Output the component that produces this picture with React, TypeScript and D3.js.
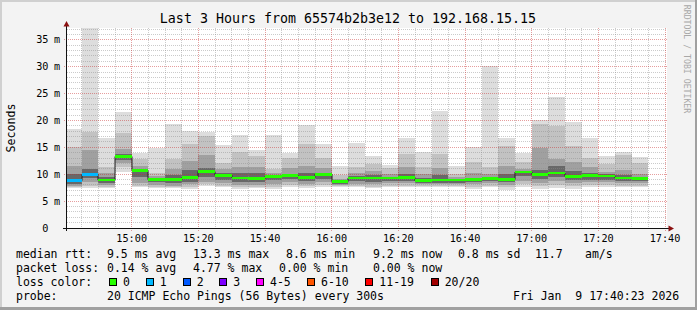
import React from 'react';
import * as d3 from 'd3';

// ---------- data ----------
const barTimes = [
  '14:40', '14:45', '14:50', '14:55', '15:00', '15:05', '15:10', '15:15', '15:20', '15:25',
  '15:30', '15:35', '15:40', '15:45', '15:50', '15:55', '16:00', '16:05', '16:10', '16:15',
  '16:20', '16:25', '16:30', '16:35', '16:40', '16:45', '16:50', '16:55', '17:00', '17:05',
  '17:10', '17:15', '17:20', '17:25', '17:30',
];
// smoke envelope (ms), outermost to innermost
const maxRtt = [18.5, 38.0, 16.7, 21.5, 14.0, 14.9, 19.4, 18.1, 17.9, 15.5, 17.3, 14.6, 17.3, 14.0, 19.2, 15.6, 11.5, 15.9, 13.3, 11.8, 16.7, 14.2, 21.7, 11.5, 15.1, 30.2, 16.7, 14.0, 20.0, 24.3, 19.7, 16.7, 13.3, 14.2, 13.2];
const hi2 = [15.0, 17.8, 11.3, 17.6, 12.8, 10.2, 12.8, 15.6, 17.2, 12.1, 14.1, 13.3, 10.9, 13.0, 15.6, 13.0, 9.8, 11.3, 11.9, 11.2, 13.8, 11.3, 13.8, 10.0, 12.2, 11.3, 15.3, 12.2, 19.4, 19.0, 15.3, 13.0, 11.9, 13.5, 12.0];
const hi3 = [11.6, 14.5, 10.3, 14.7, 11.5, 9.6, 11.0, 12.5, 13.5, 11.0, 11.4, 11.4, 10.2, 11.2, 11.5, 11.2, 9.1, 10.3, 10.6, 10.0, 11.3, 10.0, 11.1, 9.4, 10.2, 10.1, 11.6, 11.0, 14.9, 12.9, 12.2, 11.4, 10.5, 10.7, 10.1];
const hi4 = [10.0, 11.0, 9.5, 13.8, 11.0, 9.3, 9.8, 10.7, 11.2, 10.2, 10.2, 10.2, 9.9, 10.1, 10.2, 10.2, 8.9, 9.7, 9.8, 9.5, 10.0, 9.3, 9.8, 9.1, 9.3, 9.5, 10.0, 10.6, 10.8, 11.5, 10.6, 10.3, 10.0, 9.8, 9.4];
const medianRtt = [8.8, 10.0, 8.9, 13.3, 10.7, 9.0, 9.0, 9.4, 10.5, 9.8, 9.3, 9.2, 9.6, 9.8, 9.4, 10.0, 8.6, 9.3, 9.3, 9.3, 9.4, 8.8, 8.9, 8.9, 9.0, 9.2, 9.0, 10.4, 9.9, 10.2, 9.6, 9.8, 9.7, 9.3, 9.2];
const lo4 = [8.2, 9.3, 8.4, 12.6, 9.5, 8.5, 8.4, 8.6, 9.4, 9.0, 8.5, 8.6, 8.9, 9.1, 8.7, 9.2, 8.2, 8.7, 8.6, 8.8, 8.8, 8.4, 8.4, 8.4, 8.5, 8.7, 8.5, 9.6, 9.1, 9.4, 8.9, 9.0, 9.0, 8.7, 8.7];
const lo3 = [7.9, 8.6, 8.0, 12.0, 8.3, 8.0, 7.9, 8.2, 8.6, 8.4, 8.0, 8.0, 8.2, 8.5, 8.2, 8.6, 8.0, 8.2, 8.1, 8.3, 8.3, 8.1, 8.1, 8.1, 8.1, 8.3, 8.0, 8.8, 8.4, 8.8, 8.4, 8.6, 8.5, 8.3, 8.4];
const lo2 = [7.6, 7.9, 7.7, 11.3, 7.9, 7.7, 7.6, 7.6, 8.1, 7.9, 7.6, 7.6, 7.6, 8.0, 7.8, 8.0, 7.8, 7.8, 7.7, 7.9, 7.9, 7.9, 7.8, 7.9, 7.7, 7.9, 7.6, 8.1, 7.8, 8.0, 7.8, 8.0, 8.0, 7.9, 7.9];
const minRtt = [7.4, 7.5, 7.5, 10.5, 7.7, 7.4, 7.35, 7.2, 7.8, 7.6, 7.3, 7.4, 7.3, 7.7, 7.5, 7.7, 7.6, 7.6, 7.5, 7.7, 7.6, 7.7, 7.6, 7.7, 7.3, 7.6, 7.0, 7.6, 7.2, 7.5, 7.3, 7.7, 7.7, 7.6, 7.6];
// lost pings per bar (index into lossColors)
const lossIdx = [1, 1, 0, 0, 0, 0, 0, 0, 0, 0, 0, 0, 0, 0, 0, 0, 0, 0, 0, 0, 0, 0, 0, 0, 0, 0, 0, 0, 0, 0, 0, 0, 0, 0, 0];

const lossLabels = ['0', '1', '2', '3', '4-5', '6-10', '11-19', '20/20'];
const lossColors = ['#26ff00', '#00b8ff', '#0059ff', '#7e00ff', '#ff00ff', '#ff5500', '#ff0000', '#a10000'];

const yTicks = [0, 5, 10, 15, 20, 25, 30, 35];
const xTickLabels = ['15:00', '15:20', '15:40', '16:00', '16:20', '16:40', '17:00', '17:20', '17:40'];

const titleText = 'Last 3 Hours from 65574b2b3e12 to 192.168.15.15';
const statsRtt = ['9.5 ms avg', '13.3 ms max', '8.6 ms min', '9.2 ms now', '0.8 ms sd', '11.7', 'am/s'];
const statsLoss = ['0.14 % avg', '4.77 % max', '0.00 % min', '0.00 % now'];
const probeText = '20 ICMP Echo Pings (56 Bytes) every 300s';
const dateText = 'Fri Jan\u00a0\u00a09 17:40:23 2026';

// ---------- layout ----------
const W = 697;
const H = 310;
const PL = 67, PR = 667, PT = 28, PB = 228;
const FONT = "'DejaVu Sans Mono', monospace";
const smokeColors = ['#dddddd', '#c2c2c2', '#a0a0a0', '#686868'];

const toMin = (s: string) => {
  const [h, m] = s.split(':').map(Number);
  return h * 60 + m;
};
const startMin = 14 * 60 + 40 + 23 / 60;
const endMin = startMin + 180;

export default function App() {
  const x = d3.scaleLinear().domain([startMin, endMin]).range([66.3, 666.3]);
  const y = d3.scaleLinear().domain([0, 37.2]).range([PB, PT]);

  const bars = barTimes.map((t, i) => {
    const t0 = toMin(t);
    const x0 = Math.max(PL, Math.round(x(t0)));
    const x1 = Math.round(x(t0 + 5));
    const layers = [
      [minRtt[i], maxRtt[i]],
      [lo2[i], hi2[i]],
      [lo3[i], hi3[i]],
      [lo4[i], hi4[i]],
    ];
    return { x0, x1, layers, med: medianRtt[i], loss: lossIdx[i] };
  });

  const stepPts: [number, number][] = bars.map((b) => [b.x0, y(b.med)]);
  stepPts.push([bars[bars.length - 1].x1, y(bars[bars.length - 1].med)]);
  const stepPath = d3.line().curve(d3.curveStepAfter)(stepPts) || '';

  const minorH: number[] = [];
  for (let v = 1; v <= 37; v++) if (v % 5 !== 0) minorH.push(v);
  const majorH = yTicks.filter((v) => v > 0);
  const minorV: number[] = [];
  const majorV = xTickLabels.map(toMin);
  for (let t = 885; t <= 1060; t += 5) if (t % 20 !== 0) minorV.push(t);

  const cy = (v: number) => Math.floor(y(v)) + 0.5;
  const cx = (t: number) => Math.floor(x(t)) + 0.5;

  const legendBoxX = [109, 145.7, 182.7, 219.3, 256, 307, 365.3, 430.7];
  const rttX = [107, 193, 286, 373, 458, 535, 585];
  const lossX = [107, 193, 279, 373];

  return (
    <svg
      width={W}
      height={H}
      viewBox={`0 0 ${W} ${H}`}
      style={{ position: 'absolute', left: 0, top: 0, display: 'block' }}
      fontFamily={FONT}
    >
      <rect x={0} y={0} width={W} height={H} fill="#f3f3f3" />
      <rect x={0} y={0} width={W} height={2} fill="#d0d0d0" />
      <rect x={0} y={0} width={2} height={H} fill="#d0d0d0" />
      <rect x={0} y={H - 3} width={W} height={3} fill="#a0a0a0" />
      <rect x={W - 2} y={0} width={2} height={H} fill="#a0a0a0" />

      {/* canvas */}
      <rect x={PL} y={PT} width={PR - PL} height={PB - PT} fill="#ffffff" />

      <defs>
        <clipPath id="plotClip">
          <rect x={PL} y={PT} width={PR - PL} height={PB - PT} />
        </clipPath>
      </defs>

      {/* smoke */}
      <g clipPath="url(#plotClip)" shapeRendering="crispEdges">
        {bars.map((b, i) =>
          b.layers.map(([lo, hi], j) => (
            <rect
              key={`s${i}-${j}`}
              x={b.x0}
              width={b.x1 - b.x0}
              y={Math.round(y(hi))}
              height={Math.max(1, Math.round(y(lo)) - Math.round(y(hi)))}
              fill={smokeColors[j]}
            />
          ))
        )}
      </g>

      {/* grid */}
      <g strokeDasharray="1,1" strokeWidth={1} shapeRendering="crispEdges">
        {minorH.map((v) => (
          <line key={`mh${v}`} x1={PL} x2={PR} y1={cy(v)} y2={cy(v)} stroke="rgba(140,140,140,0.45)" />
        ))}
        {minorV.map((t) => (
          <line key={`mv${t}`} x1={cx(t)} x2={cx(t)} y1={PT} y2={PB} stroke="rgba(140,140,140,0.45)" />
        ))}
        {majorH.map((v) => (
          <line key={`Mh${v}`} x1={PL - 3} x2={PR} y1={cy(v)} y2={cy(v)} stroke="rgba(200,40,40,0.45)" />
        ))}
        {majorV.map((t) => (
          <line key={`Mv${t}`} x1={cx(t)} x2={cx(t)} y1={PT} y2={PB + 3} stroke="rgba(200,40,40,0.45)" />
        ))}
      </g>

      {/* median */}
      <path d={stepPath} fill="none" stroke="#202020" strokeWidth={1} clipPath="url(#plotClip)" />
      <g shapeRendering="crispEdges">
        {bars.map((b, i) => (
          <rect
            key={`m${i}`}
            x={b.x0}
            width={b.x1 - b.x0}
            y={y(b.med) - 1.3}
            height={2.6}
            fill={lossColors[b.loss]}
          />
        ))}
      </g>

      {/* axes */}
      <g shapeRendering="crispEdges">
        <line x1={PL - 0.5} x2={PL - 0.5} y1={PB + 3} y2={25} stroke="#111" />
        <line x1={PL - 4} x2={669} y1={PB + 0.5} y2={PB + 0.5} stroke="#111" />
      </g>
      <path d={`M${PL - 0.5},21 L${PL - 3.5},26.5 L${PL + 2.5},26.5 Z`} fill="#8b1010" />
      <path d={`M674,${PB + 0.5} L668.5,${PB - 2.5} L668.5,${PB + 3.5} Z`} fill="#8b1010" />

      {/* y tick labels */}
      <g fontSize={10.2} fill="#000">
        {yTicks.map((v) => (
          <g key={`yl${v}`}>
            <text x={48.5} y={y(v) + 3.6} textAnchor="end">{v}</text>
            {v > 0 && <text x={54} y={y(v) + 3.6}>m</text>}
          </g>
        ))}
      </g>

      {/* x tick labels */}
      <g fontSize={10.2} fill="#000" textAnchor="middle">
        {xTickLabels.map((s) => (
          <text key={`xl${s}`} x={x(toMin(s))} y={241.5}>{s}</text>
        ))}
      </g>

      {/* title */}
      <text x={348} y={23} textAnchor="middle" fontSize={13.3} fill="#000">{titleText}</text>

      {/* unit label */}
      <text
        transform="translate(15,128) rotate(-90)"
        textAnchor="middle"
        fontSize={11.6}
        fill="#000"
      >
        Seconds
      </text>

      {/* watermark */}
      <text
        transform="translate(684,59) rotate(90)"
        textAnchor="middle"
        fontSize={8.2}
        fill="#a8a8a8"
      >
        RRDTOOL / TOBI OETIKER
      </text>

      {/* legend */}
      <g fontSize={11.5} fill="#000">
        <text x={16} y={258}>median rtt:</text>
        {statsRtt.map((s, i) => (
          <text key={`r${i}`} x={rttX[i]} y={258}>{s}</text>
        ))}
        <text x={16} y={272}>packet loss:</text>
        {statsLoss.map((s, i) => (
          <text key={`l${i}`} x={lossX[i]} y={272}>{s}</text>
        ))}
        <text x={16} y={285.8}>loss color:</text>
        {lossLabels.map((s, i) => (
          <g key={`lc${i}`}>
            <rect
              x={legendBoxX[i] + 0.5}
              y={278.5}
              width={7}
              height={7}
              fill={lossColors[i]}
              stroke="#000"
              strokeWidth={1}
              shapeRendering="crispEdges"
            />
            <text x={legendBoxX[i] + 14} y={285.8}>{s}</text>
          </g>
        ))}
        <text x={16} y={299.5}>probe:</text>
        <text x={107} y={299.5}>{probeText}</text>
        <text x={513} y={299.5}>{dateText}</text>
      </g>
    </svg>
  );
}
